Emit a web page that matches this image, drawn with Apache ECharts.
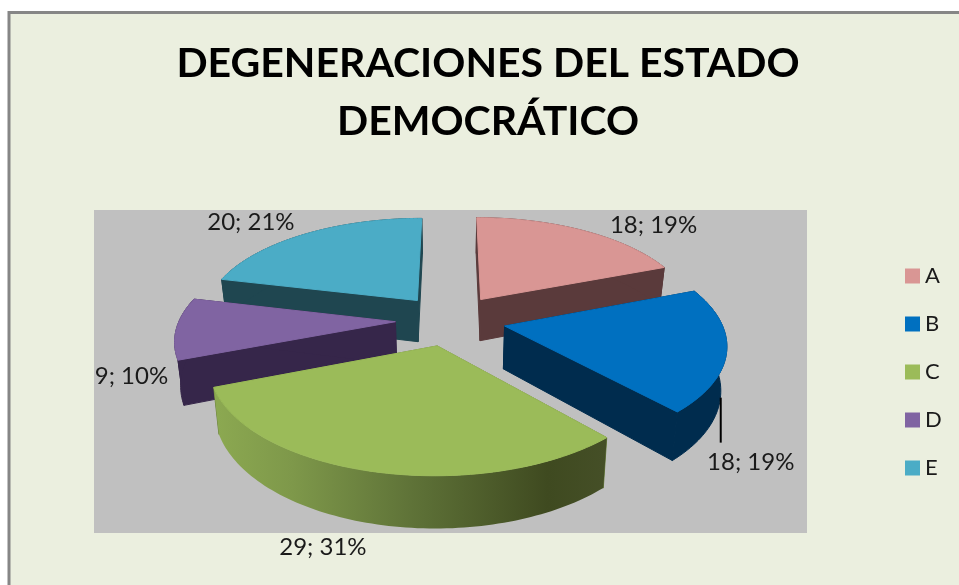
<!DOCTYPE html>
<html>
<head>
<meta charset="utf-8">
<style>html,body{margin:0;padding:0;background:#fff}#c{width:959px;height:585px}</style>
<script src="https://cdn.jsdelivr.net/npm/echarts@6/dist/echarts.min.js"></script>
</head>
<body>
<div id="c"></div>
<script>
const categories = ['A', 'B', 'C', 'D', 'E'];
const values = [18, 18, 29, 9, 20];
const titleLines = ['DEGENERACIONES DEL ESTADO', 'DEMOCRÁTICO'];

const topColors = ['#D99694', '#0070C0', '#9BBB59', '#8064A2', '#4BACC6'];
const wallColors = ['#5A3A3B', '#002C4E', '#6C8240', '#36264A', '#1F4650'];
const paintOrder = [0, 4, 3, 1, 2];
const labelOffsets = [[71, -5], [24, 112], [-50, 76], [-45, 48], [-54, -12]];
const leaderOffsets = [null, [-6, 47, 92], null, null, null];

const view = { cx: 450.5, cy: 320, rx: 216, ry: 100.5, persp: 0.156, depth: 42.5, explode: 0.255, taper: 0.978 };
const total = values.reduce((a, b) => a + b, 0);

function project(X, Z, low) {
  const d = 1 - view.persp * Z;
  const sx = view.rx * X / d * (low ? view.taper : 1);
  const sy = (view.ry * Z + (low ? view.depth : 0)) / d;
  return [view.cx + sx, view.cy + sy];
}

function sliceAngles(i) {
  let before = 0;
  for (let k = 0; k < i; k++) before += values[k];
  return [before / total * 2 * Math.PI, (before + values[i]) / total * 2 * Math.PI];
}

function renderSlice(i) {
  return function (params, api) {
    const [a0, a1] = sliceAngles(i);
    const mid = (a0 + a1) / 2;
    const ox = view.explode * Math.sin(mid), oz = -view.explode * Math.cos(mid);
    const steps = Math.max(24, Math.round(api.value(0) * 3));
    const rimAngles = [];
    for (let s = 0; s <= steps; s++) rimAngles.push(a0 + (a1 - a0) * s / steps);
    const at = (a, low) => project(ox + Math.sin(a), oz - Math.cos(a), low);
    const apex = project(ox, oz, false), apexLow = project(ox, oz, true);
    const rimTop = rimAngles.map(a => at(a, false));
    const rimLow = rimAngles.map(a => at(a, true));
    const wall = wallColors[i];
    let rimFill = wall;
    if (i === 2) {
      rimFill = { type: 'linear', x: 0, y: 0, x2: 1, y2: 0, colorStops: [
        { offset: 0, color: '#8CA951' }, { offset: 0.2, color: '#7E984A' },
        { offset: 0.5, color: '#5F7338' }, { offset: 0.85, color: '#3F4A20' },
        { offset: 1, color: '#454F27' } ] };
    }
    const poly = (pts, fill) => ({ type: 'polygon', shape: { points: pts },
      style: { fill: fill, stroke: typeof fill === 'string' ? fill : null, lineWidth: 1 } });
    const children = [
      poly([apex, rimTop[0], rimLow[0], apexLow], wall),
      poly([apex, rimTop[steps], rimLow[steps], apexLow], wall),
      poly(rimTop.concat(rimLow.slice().reverse()), rimFill),
      poly([apex].concat(rimTop), topColors[i])
    ];
    const anchor = at(mid, false);
    const lead = leaderOffsets[i];
    if (lead) {
      children.push({ type: 'line',
        shape: { x1: anchor[0] + lead[0], y1: anchor[1] + lead[1], x2: anchor[0] + lead[0], y2: anchor[1] + lead[2] },
        style: { stroke: '#000', lineWidth: 2 } });
    }
    children.push({ type: 'text', x: anchor[0] + labelOffsets[i][0], y: anchor[1] + labelOffsets[i][1],
      style: { text: api.value(0) + '; ' + Math.round(api.value(0) / total * 100) + '%',
        fill: '#1a1a1a', font: '24px Lato', align: 'center', verticalAlign: 'middle' } });
    return { type: 'group', children: children };
  };
}

const chart = echarts.init(document.getElementById('c'), null, { renderer: 'canvas' });
chart.setOption({
  animation: false,
  backgroundColor: '#ffffff',
  graphic: [
    { type: 'rect', z: -20, silent: true, shape: { x: 9, y: 12.5, width: 960, height: 590 },
      style: { fill: '#EBEFDF', stroke: '#868686', lineWidth: 3 } },
    { type: 'rect', z: -10, silent: true, shape: { x: 94, y: 210, width: 713, height: 323 },
      style: { fill: '#C0C0C0' } }
  ],
  title: {
    text: titleLines.join('\n'), left: 483, top: 30, textAlign: 'center',
    textStyle: { fontFamily: 'Lato', fontWeight: 'bold', fontSize: 41, lineHeight: 58, color: '#000' }
  },
  legend: {
    data: categories, orient: 'vertical', left: 900, top: 259, itemWidth: 15, itemHeight: 15, itemGap: 24,
    icon: 'rect', selectedMode: false,
    textStyle: { fontFamily: 'Lato', fontSize: 22, color: '#1a1a1a', lineHeight: 24 }
  },
  series: paintOrder.map((i, order) => ({
    type: 'custom', name: categories[i], coordinateSystem: 'none', silent: true,
    z: 2 + order, data: [[values[i]]], renderItem: renderSlice(i),
    itemStyle: { color: topColors[i] }
  }))
});
</script>
</body>
</html>
